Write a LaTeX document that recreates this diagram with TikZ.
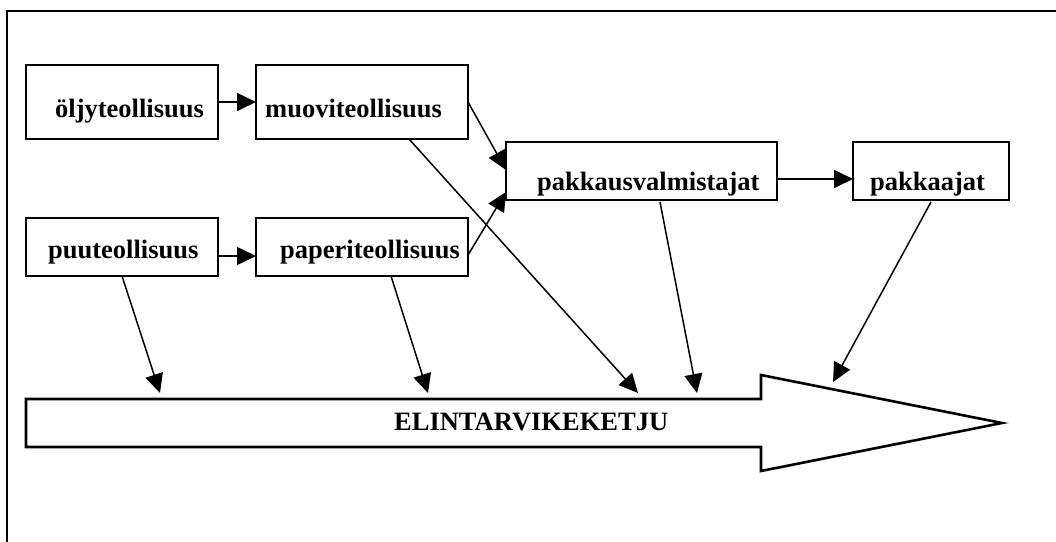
\documentclass[tikz,border=0pt]{standalone}
\usepackage{fontspec}
\setmainfont{Liberation Serif}
\usetikzlibrary{arrows.meta}
\begin{document}
\begin{tikzpicture}[x=1pt,y=-1pt,
  box/.style={draw,line width=2.6pt,rectangle,inner sep=0pt,outer sep=0pt},
  lbl/.style={anchor=base west,inner sep=0pt,font=\bfseries\fontsize{26.5}{30}\selectfont},
  conn/.style={line width=1.5pt,-{Triangle[length=19pt,width=18pt]}}]
\useasboundingbox (0,0) rectangle (1056,541);
% outer frame (only the top and left edges fall inside the page)
\draw[line width=2pt] (7,560) -- (7,11) -- (1070,11);

% boxes
\node[box,minimum width=192pt,minimum height=74pt] (oljy) at (122,102) {};
\node[box,minimum width=212pt,minimum height=74pt] (muovi) at (362,102) {};
\node[box,minimum width=192pt,minimum height=58pt] (puu) at (122,247) {};
\node[box,minimum width=212pt,minimum height=58pt] (paperi) at (362,247) {};
\node[box,minimum width=271pt,minimum height=58pt] (pakkaus) at (641.5,171) {};
\node[box,minimum width=156pt,minimum height=58pt] (pakkaajat) at (931,171) {};

% box texts
\node[lbl] (toljy) at (55,117) {öljyteollisuus};
\node[lbl] (tmuovi) at (265,117) {muoviteollisuus};
\node[lbl] (tpuu) at (48,258) {puuteollisuus};
\node[lbl] (tpaperi) at (280,258) {paperiteollisuus};
\node[lbl] (tpakkaus) at (537,190) {pakkausvalmistajat};
\node[lbl] (tpakkaajat) at (870,190) {pakkaajat};

% the food chain arrow
\draw[line width=2.6pt,line join=miter,fill=white]
  (26,399) -- (761,399) -- (761,375) -- (1002,423) -- (761,471) -- (761,447) -- (26,447) -- cycle;
\node[lbl] (chain) at (394,430) {ELINTARVIKEKETJU};

% points where the arrows meet the food chain
\coordinate (c1) at (160,393);
\coordinate (c2) at (428,393);
\coordinate (c3) at (638,393);
\coordinate (c4) at (697,393);
\coordinate (c5) at (833,382);

% connectors
\draw[conn] (oljy.east) -- (muovi.west);
\draw[conn] ([yshift=-9pt]puu.east) -- ([yshift=-9pt]paperi.west);
\draw[conn] (muovi.east) -- ([yshift=1pt]pakkaus.west);
\draw[conn] ([yshift=-8pt]paperi.east) -- ([yshift=-21pt]pakkaus.west);
\draw[conn] ([yshift=-8pt]pakkaus.east) -- ([yshift=-8pt]pakkaajat.west);

\draw[conn] (puu.south) -- (c1);
\draw[conn] ([xshift=29pt]paperi.south) -- (c2);
\draw[conn] ([xshift=47pt]muovi.south) -- (c3);
\draw[conn] ([xshift=18.5pt,yshift=-2pt]pakkaus.south) -- (c4);
\draw[conn] ([yshift=-2pt]pakkaajat.south) -- (c5);
\end{tikzpicture}
\end{document}
